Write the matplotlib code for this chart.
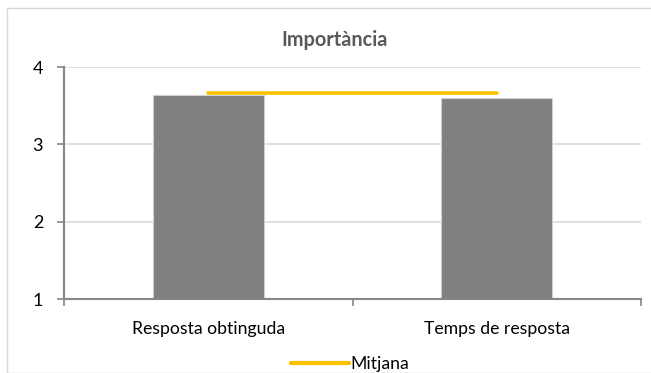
import matplotlib
matplotlib.use("Agg")
import matplotlib.pyplot as plt
from matplotlib.patches import Rectangle
from matplotlib.lines import Line2D

categories = ["Resposta obtinguda", "Temps de resposta"]
importancia = [3.64, 3.60]
mitjana = [3.66, 3.66]
y_ticks = [1, 2, 3, 4]
title = "Importància"
legend_label = "Mitjana"

plt.rcParams['font.family'] = ['Lato', 'DejaVu Sans']

W, H = 651, 373
fig = plt.figure(figsize=(W / 100, H / 100), dpi=100)
fig.patch.set_facecolor("white")

# chart border
fig.patches.append(Rectangle((7 / W, 0), 1.2, 1 - 8 / H, transform=fig.transFigure,
                             fill=False, edgecolor="#d9d9d9", linewidth=1.0))

ax = fig.add_axes([64 / W, (H - 299) / H, (641 - 64) / W, (299 - 67) / H])
x = list(range(len(categories)))
ax.bar(x, [v - y_ticks[0] for v in importancia], bottom=y_ticks[0], width=0.385,
       color="#808080", edgecolor="#d0d0d0", linewidth=0.8, zorder=2)
ax.plot(x, mitjana, color="#FFC000", linewidth=2.6, solid_capstyle="round", zorder=3)

ax.set_xlim(-0.5, len(categories) - 0.5)
ax.set_ylim(y_ticks[0], y_ticks[-1])
ax.set_yticks(y_ticks)
ax.set_yticklabels([str(t) for t in y_ticks], fontsize=13, color="black")
ax.yaxis.grid(True, color="#d9d9d9", linewidth=1.2, zorder=0)
ax.set_axisbelow(True)

ax.set_xticks([i - 0.5 for i in range(len(categories) + 1)])
ax.set_xticklabels([])
ax.set_xticks(x, minor=True)
ax.set_xticklabels(categories, minor=True, fontsize=12.7, color="black")
ax.tick_params(axis="x", which="minor", length=0, pad=16)
ax.tick_params(axis="x", which="major", length=5, color="#868686", width=1.2)
ax.tick_params(axis="y", length=5, color="#868686", width=1.2, pad=10)

for s in ["top", "right"]:
    ax.spines[s].set_visible(False)
for s in ["left", "bottom"]:
    ax.spines[s].set_color("#868686")
    ax.spines[s].set_linewidth(1.5)

fig.text(335 / W, 1 - 40 / H, title, ha="center", va="center", fontsize=14.3,
         fontweight="bold", color="#595959")

handle = Line2D([], [], color="#FFC000", linewidth=3, solid_capstyle="round")
fig.legend([handle], [legend_label], loc="center", bbox_to_anchor=(350 / W, 1 - 364 / H),
           frameon=False, fontsize=12.7, handlelength=3.3, handletextpad=0.1,
           borderpad=0, borderaxespad=0)

fig.savefig("out.png", dpi=100, facecolor="white")
